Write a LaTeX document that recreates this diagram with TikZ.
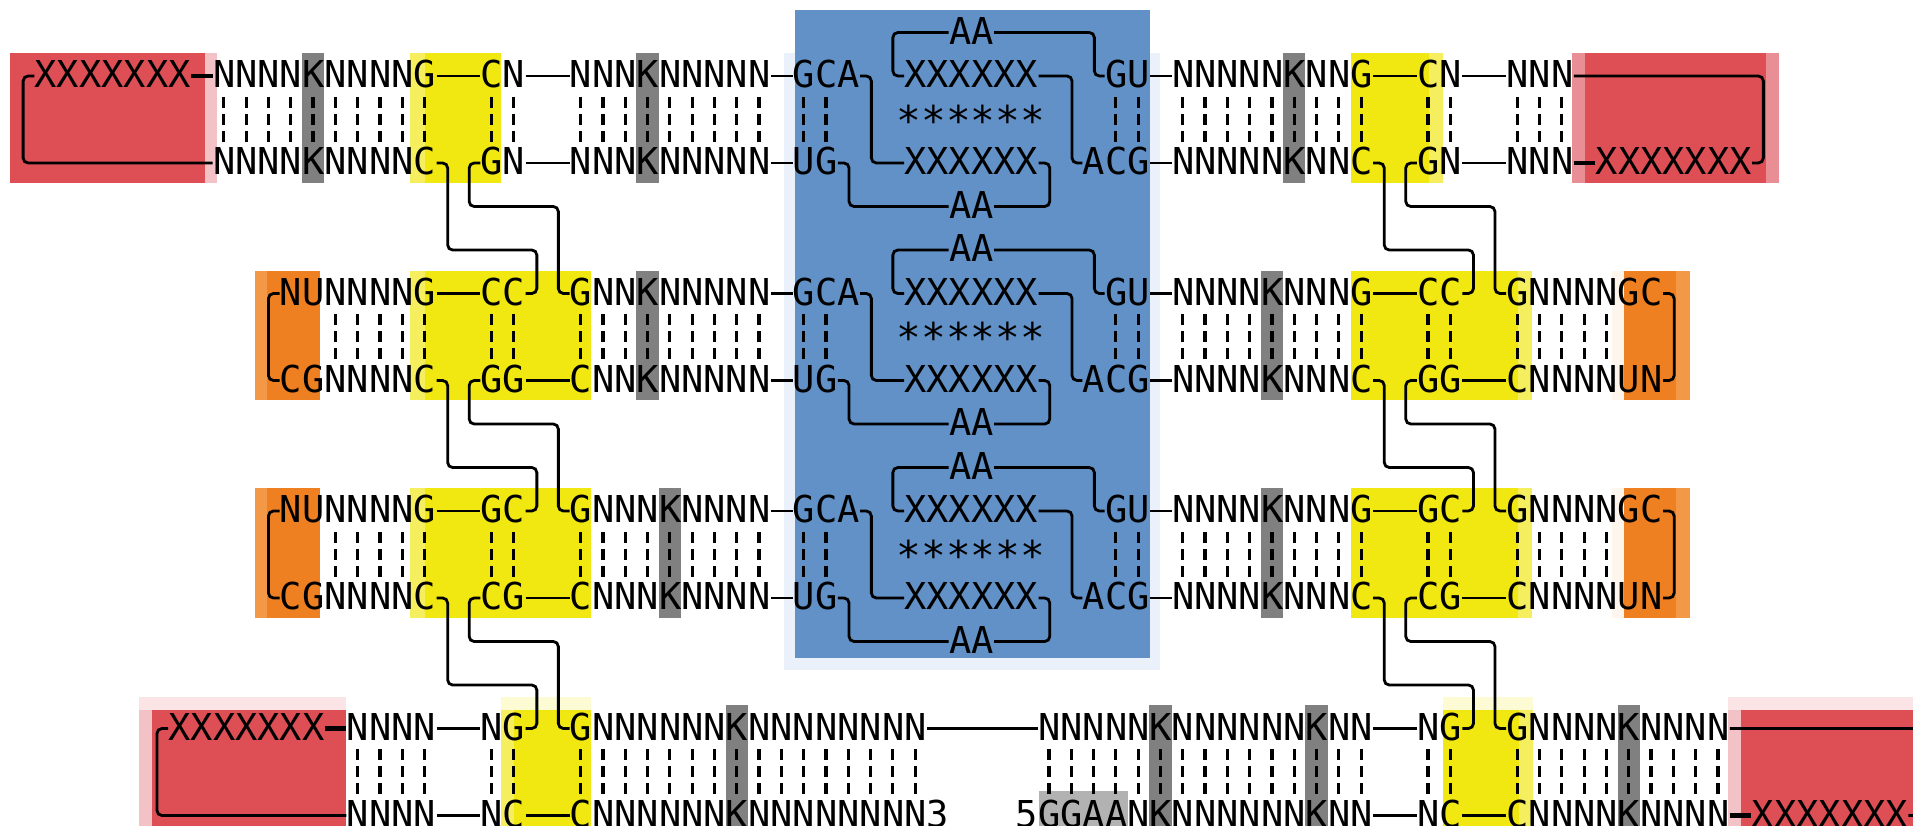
\documentclass[tikz,border=0pt]{standalone}
\usepackage{fontspec}
\usepackage{tikz}
\newfontfamily\seqfont{DejaVu Sans Mono}

\definecolor{hlred}{RGB}{221,78,85}
\definecolor{hlpink}{RGB}{243,194,199}
\definecolor{hlrose}{RGB}{233,142,148}
\definecolor{hlyellow}{RGB}{241,232,18}
\definecolor{hlpaleyel}{RGB}{245,239,95}
\definecolor{hlorange}{RGB}{239,128,34}
\definecolor{hlpaleor}{RGB}{243,152,70}
\definecolor{hlblue}{RGB}{97,145,199}
\definecolor{hlpaleblue}{RGB}{234,241,250}
\definecolor{kgray}{RGB}{128,128,128}
\definecolor{lgray}{RGB}{178,178,178}

\begin{document}
\begin{tikzpicture}[x=11.15pt,y=-21.75pt,
    seq/.style={font=\seqfont\fontsize{18.52pt}{21.75pt}\selectfont,
      inner sep=0pt,text height=13pt,text depth=1.5pt,anchor=west},
    stars/.style={seq,font=\seqfont\fontsize{20.5pt}{21.75pt}\selectfont,
      anchor=center,yshift=-2.2pt},
    strand/.style={line width=1.4pt,rounded corners=2.5pt},
    heavy/.style={strand,line width=2.2pt},
    pair/.style={line width=1.6pt,dash pattern=on 5.5pt off 3pt},
    kbox/.style={fill=kgray},
    redbox/.style={fill=hlred},
    yelbox/.style={fill=hlyellow},
    orbox/.style={fill=hlorange}]
  \useasboundingbox (-0.538,-0.747) rectangle (85.247,18.241);

  % shaded regions
  \fill[fill=hlpaleblue] (34.6,0.47) rectangle (51.5,14.65);
  \fill[fill=hlblue] (35.1,-0.52) rectangle (51.05,14.38);

  \fill[fill=hlpink] (8.6,0.47) rectangle (9.2,3.45);
  \fill[redbox] (-0.1,0.47) rectangle (8.65,3.45);
  \fill[fill=hlrose] (69.95,0.47) rectangle (79.25,3.45);
  \fill[redbox] (70.55,0.47) rectangle (78.65,3.45);
  \fill[fill=hlpaleyel] (17.85,0.47) rectangle (21.95,3.45);
  \fill[yelbox] (18.5,0.47) rectangle (21.95,3.45);
  \fill[fill=hlpaleyel] (60.05,0.47) rectangle (64.15,3.45);
  \fill[yelbox] (60.05,0.47) rectangle (63.55,3.45);
  \foreach \c in {13,28,57} \fill[kbox] (\c,0.47) rectangle (\c+1,3.45);

  \foreach \t/\b/\c in {5.48/8.45/28,10.48/13.45/29} {
    \fill[fill=hlpaleor] (10.9,\t) rectangle (13.8,\b);
    \fill[orbox] (11.45,\t) rectangle (13.8,\b);
    \fill[fill=hlpaleyel] (17.85,\t) rectangle (25.95,\b);
    \fill[yelbox] (18.5,\t) rectangle (25.95,\b);
    \fill[fill=hlpaleyel] (60.05,\t) rectangle (68.15,\b);
    \fill[yelbox] (60.05,\t) rectangle (67.55,\b);
    \fill[fill=hlorange!8] (71.75,\t) rectangle (72.3,\b);
    \fill[fill=hlpaleor] (72.3,\t) rectangle (75.25,\b);
    \fill[orbox] (72.3,\t) rectangle (74.6,\b);
    \fill[kbox] (\c,\t) rectangle (\c+1,\b);
    \fill[kbox] (56,\t) rectangle (57,\b);
  }

  \fill[fill=hlpink!45] (5.7,15.28) rectangle (15,15.57);
  \fill[fill=hlpink] (5.7,15.57) rectangle (6.3,18.3);
  \fill[redbox] (6.3,15.57) rectangle (15,18.3);
  \fill[fill=hlpink!45] (76.95,15.28) rectangle (86,15.57);
  \fill[fill=hlpink] (76.95,15.57) rectangle (77.55,18.3);
  \fill[redbox] (77.55,15.57) rectangle (86,18.3);
  \fill[fill=hlyellow!18] (21.93,15.28) rectangle (25.95,15.57);
  \fill[fill=hlpaleyel] (21.93,15.57) rectangle (22.5,18.3);
  \fill[yelbox] (22.5,15.57) rectangle (25.95,18.3);
  \fill[fill=hlyellow!18] (64.15,15.28) rectangle (68.2,15.57);
  \fill[fill=hlpaleyel] (64.15,15.57) rectangle (68.2,18.3);
  \fill[yelbox] (64.15,15.57) rectangle (67.6,18.3);
  \foreach \c in {32,51,58,72} \fill[kbox] (\c,15.46) rectangle (\c+1,18.3);
  \fill[fill=lgray] (46.05,17.44) rectangle (50.05,18.3);

  % base pairs
  \foreach \a/\b in {9/18,21/22,25/33,35/36,49/50,52/60,63/64,67/69}
    \foreach \c in {\a,...,\b}
      \draw[pair] (\c+0.5,1.48) -- (\c+0.5,2.52);
  \foreach \k in {6,11}
    \foreach \a/\b in {14/18,21/22,25/33,35/36,49/50,52/60,63/64,67/71}
      \foreach \c in {\a,...,\b}
        \draw[pair] (\c+0.5,\k+0.48) -- (\c+0.5,\k+1.52);
  \foreach \a/\b in {15/18,21/22,25/40,46/60,63/64,67/76}
    \foreach \c in {\a,...,\b}
      \draw[pair] (\c+0.5,16.48) -- (\c+0.5,17.52);

  % kissing loops
  \foreach \k/\i in {0/1,5/2,10/3} {
    \node[seq] (gca\i) at (35,\k+1) {GCA};
    \node[seq] (ug\i) at (35,\k+3) {UG};
    \node[seq] (xa\i) at (40,\k+1) {XXXXXX};
    \node[stars] (st\i) at (43,\k+2) {******};
    \node[seq] (xb\i) at (40,\k+3) {XXXXXX};
    \node[seq] (aa\i) at (42,\k) {AA};
    \node[seq] (ab\i) at (42,\k+4) {AA};
    \node[seq] (gu\i) at (49,\k+1) {GU};
    \node[seq] (acg\i) at (48,\k+3) {ACG};
    \draw[strand] (gca\i.east) -- ++(0.5,0) |- (xb\i.west);
    \draw[strand] (xa\i.west) -- ++(-0.5,0) |- (aa\i.west);
    \draw[strand] (aa\i.east) -- ++(4.5,0) |- (gu\i.west);
    \draw[strand] (xa\i.east) -- ++(1.5,0) |- (acg\i.west);
    \draw[strand] (ug\i.east) -- ++(0.5,0) |- (ab\i.west);
    \draw[strand] (xb\i.east) -- ++(0.5,0) |- (ab\i.east);
  }

  \node[seq] (u1x) at (1,1) {XXXXXXX};
  \node[seq] (u1a) at (9,1) {NNNNKNNNNG};
  \node[seq] (u1b) at (21,1) {CN};
  \node[seq] (u1c) at (25,1) {NNNKNNNNN};
  \node[seq] (u1f) at (52,1) {NNNNNKNNG};
  \node[seq] (u1g) at (63,1) {CN};
  \node[seq] (u1h) at (67,1) {NNN};
  \node[seq] (l1a) at (9,3) {NNNNKNNNNC};
  \node[seq] (l1b) at (21,3) {GN};
  \node[seq] (l1c) at (25,3) {NNNKNNNNN};
  \node[seq] (l1f) at (52,3) {NNNNNKNNC};
  \node[seq] (l1g) at (63,3) {GN};
  \node[seq] (l1h) at (67,3) {NNN};
  \node[seq] (l1x) at (71,3) {XXXXXXX};

  \node[seq] (u2a) at (12,6) {NUNNNNG};
  \node[seq] (u2b) at (21,6) {CC};
  \node[seq] (u2c) at (25,6) {GNNKNNNNN};
  \node[seq] (u2f) at (52,6) {NNNNKNNNG};
  \node[seq] (u2g) at (63,6) {CC};
  \node[seq] (u2h) at (67,6) {GNNNNGC};
  \node[seq] (l2a) at (12,8) {CGNNNNC};
  \node[seq] (l2b) at (21,8) {GG};
  \node[seq] (l2c) at (25,8) {CNNKNNNNN};
  \node[seq] (l2f) at (52,8) {NNNNKNNNC};
  \node[seq] (l2g) at (63,8) {GG};
  \node[seq] (l2h) at (67,8) {CNNNNUN};

  \node[seq] (u3a) at (12,11) {NUNNNNG};
  \node[seq] (u3b) at (21,11) {GC};
  \node[seq] (u3c) at (25,11) {GNNNKNNNN};
  \node[seq] (u3f) at (52,11) {NNNNKNNNG};
  \node[seq] (u3g) at (63,11) {GC};
  \node[seq] (u3h) at (67,11) {GNNNNGC};
  \node[seq] (l3a) at (12,13) {CGNNNNC};
  \node[seq] (l3b) at (21,13) {CG};
  \node[seq] (l3c) at (25,13) {CNNNKNNNN};
  \node[seq] (l3f) at (52,13) {NNNNKNNNC};
  \node[seq] (l3g) at (63,13) {CG};
  \node[seq] (l3h) at (67,13) {CNNNNUN};

  \node[seq] (u4x) at (7,16) {XXXXXXX};
  \node[seq] (u4a) at (15,16) {NNNN};
  \node[seq] (u4b) at (21,16) {NG};
  \node[seq] (u4c) at (25,16) {GNNNNNNKNNNNNNNN};
  \node[seq] (u4e) at (46,16) {NNNNNKNNNNNNKNN};
  \node[seq] (u4g) at (63,16) {NG};
  \node[seq] (u4h) at (67,16) {GNNNNKNNNN};
  \node[seq] (l4a) at (15,18) {NNNN};
  \node[seq] (l4b) at (21,18) {NC};
  \node[seq] (l4c) at (25,18) {CNNNNNNKNNNNNNNN3};
  \node[seq] (l4e) at (45,18) {5GGAANKNNNNNNKNN};
  \node[seq] (l4g) at (63,18) {NC};
  \node[seq] (l4h) at (67,18) {CNNNNKNNNN};
  \node[seq] (l4x) at (78,18) {XXXXXXX};

  % backbone
  \draw[strand] (u1x.west) -- ++(-0.5,0) |- (l1a.west);
  \draw[heavy] (u1x.east) -- (u1a.west);
  \draw[strand] (u1a.east) -- (u1b.west);
  \draw[strand] (u1b.east) -- (u1c.west);
  \draw[strand] (u1c.east) -- (gca1.west);
  \draw[strand] (gu1.east) -- (u1f.west);
  \draw[strand] (u1f.east) -- (u1g.west);
  \draw[strand] (u1g.east) -- (u1h.west);
  \draw[strand] (u1h.east) -- ++(8.5,0) |- (l1x.east);
  \draw[strand] (l1b.east) -- (l1c.west);
  \draw[strand] (l1c.east) -- (ug1.west);
  \draw[strand] (acg1.east) -- (l1f.west);
  \draw[strand] (l1g.east) -- (l1h.west);
  \draw[heavy] (l1h.east) -- (l1x.west);

  \foreach \i in {2,3} {
    \draw[strand] (u\i a.west) -- ++(-0.5,0) |- (l\i a.west);
    \draw[strand] (u\i a.east) -- (u\i b.west);
    \draw[strand] (u\i c.east) -- (gca\i.west);
    \draw[strand] (gu\i.east) -- (u\i f.west);
    \draw[strand] (u\i f.east) -- (u\i g.west);
    \draw[strand] (u\i h.east) -- ++(0.5,0) |- (l\i h.east);
    \draw[strand] (l\i b.east) -- (l\i c.west);
    \draw[strand] (l\i c.east) -- (ug\i.west);
    \draw[strand] (acg\i.east) -- (l\i f.west);
    \draw[strand] (l\i g.east) -- (l\i h.west);
  }

  \draw[strand] (u4x.west) -- ++(-0.5,0) |- (l4a.west);
  \draw[heavy] (u4x.east) -- (u4a.west);
  \draw[strand] (u4a.east) -- (u4b.west);
  \draw[strand] (u4c.east) -- (u4e.west);
  \draw[strand] (u4e.east) -- (u4g.west);
  \draw[strand] (u4h.east) -- ++(8.5,0) |- (l4x.east);
  \draw[strand] (l4a.east) -- (l4b.west);
  \draw[strand] (l4b.east) -- (l4c.west);
  \draw[strand] (l4e.east) -- (l4g.west);
  \draw[strand] (l4g.east) -- (l4h.west);
  \draw[heavy] (l4h.east) -- (l4x.west);

  % crossovers
  \foreach \i/\j in {1/2,2/3,3/4} {
    \draw[strand] (l\i a.east) -- ++(0.5,0) -- ++(0,2) -- ++(4,0) |- (u\j b.east);
    \draw[strand] (l\i b.west) -- ++(-0.5,0) -- ++(0,1) -- ++(4,0) |- (u\j c.west);
    \draw[strand] (l\i f.east) -- ++(0.5,0) -- ++(0,2) -- ++(4,0) |- (u\j g.east);
    \draw[strand] (l\i g.west) -- ++(-0.5,0) -- ++(0,1) -- ++(4,0) |- (u\j h.west);
  }
\end{tikzpicture}
\end{document}
